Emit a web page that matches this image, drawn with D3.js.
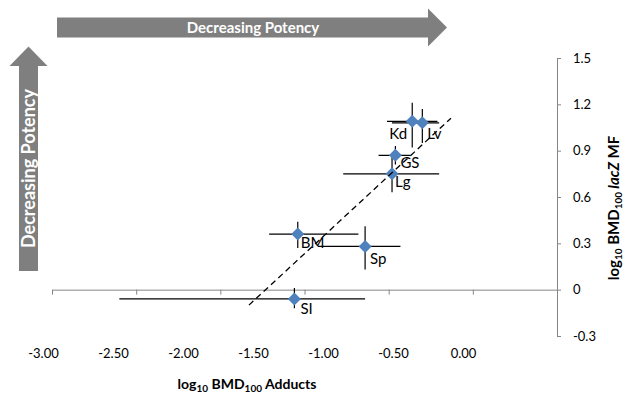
<!DOCTYPE html>
<html>
<head>
<meta charset="utf-8">
<script src="https://cdn.jsdelivr.net/npm/d3@7"></script>
<style>
  body { margin: 0; background: #fff; }
  svg { display: block; font-family: Lato, "Open Sans", sans-serif; }
</style>
</head>
<body>
<div id="chart"></div>
<script>
// data
var tissues   = ["SI", "BM", "Sp", "Lg", "GS", "Kd", "Lv"];
var adducts   = [-1.56, -1.54, -1.14, -0.98, -0.96, -0.86, -0.80];
var adductLo  = [-2.60, -1.71, -1.42, -1.27, -1.06, -1.01, -0.98];
var adductHi  = [-1.14, -1.18, -0.93, -0.70, -0.87, -0.71, -0.70];
var mf        = [-0.06, 0.36, 0.28, 0.75, 0.87, 1.09, 1.08];
var mfLo      = [-0.12, 0.27, 0.13, 0.63, 0.81, 0.92, 0.95];
var mfHi      = [0.01, 0.44, 0.41, 0.86, 0.93, 1.21, 1.17];
var trendX    = [-1.83, -0.63];
var trendY    = [-0.10, 1.11];
var xTicks    = [-3, -2.5, -2, -1.5, -1, -0.5, 0];
var xTickText = ["-3.00", "-2.50", "-2.00", "-1.50", "-1.00", "-0.50", "0.00"];
var yTicks    = [-0.3, 0, 0.3, 0.6, 0.9, 1.2, 1.5];
var yTickText = ["-0.3", "0", "0.3", "0.6", "0.9", "1.2", "1.5"];

// where each point label sits relative to its marker
var labelPos = {
    SI: [6, 15, "start"], BM: [3, 14, "start"], Sp: [5, 18, "start"],
    Lg: [3, 13, "start"], GS: [5, 13, "start"], Kd: [-5, 18, "end"],
    Lv: [5, 16, "start"]
};

var width = 625, height = 397;

var svg = d3.select("#chart")
    .append("svg")
    .attr("width", width)
    .attr("height", height);

var x = d3.scaleLinear().domain([-3, 0]).range([52, 557]);
var y = d3.scaleLinear().domain([-0.3, 1.5]).range([336, 58]);
// the tick labels row is laid out narrower than the axis line in the original
var xLab = d3.scaleLinear().domain([-3, 0]).range([43, 463]);

var grey = "#868686";

// x axis line through y = 0
var xAxis = svg.append("g")
    .attr("transform", "translate(0," + y(0) + ")")
    .call(d3.axisBottom(x).tickValues(xTicks).tickSize(5).tickSizeOuter(0).tickFormat(""));
xAxis.selectAll("path, line").attr("stroke", grey);

// x tick labels
var xLabels = svg.append("g")
    .attr("transform", "translate(0,345)")
    .call(d3.axisBottom(xLab).tickValues(xTicks).tickSize(0).tickPadding(4)
        .tickFormat(function(d, i) { return xTickText[i]; }));
xLabels.select(".domain").remove();
xLabels.selectAll("text").attr("font-size", 13).attr("font-family", "Lato").attr("fill", "#000");

// y axis on the right
var yAxis = svg.append("g")
    .attr("transform", "translate(" + x(0) + ",0)")
    .call(d3.axisRight(y).tickValues(yTicks).tickSize(4).tickSizeOuter(0).tickPadding(12)
        .tickFormat(function(d, i) { return yTickText[i]; }));
yAxis.selectAll("path, line").attr("stroke", grey);
yAxis.selectAll("text").attr("font-size", 13).attr("font-family", "Lato").attr("fill", "#000");

// axis titles
var xt = svg.append("text")
    .attr("x", 247).attr("y", 389)
    .attr("text-anchor", "middle")
    .attr("font-size", 14).attr("font-weight", "bold");
xt.append("tspan").text("log");
xt.append("tspan").attr("font-size", 10).attr("dy", 3).text("10");
xt.append("tspan").attr("dy", -3).text(" BMD");
xt.append("tspan").attr("font-size", 10).attr("dy", 3).text("100");
xt.append("tspan").attr("dy", -3).text(" Adducts");

var yt = svg.append("text")
    .attr("transform", "translate(619,208) rotate(-90)")
    .attr("text-anchor", "middle")
    .attr("font-size", 15).attr("font-weight", "bold");
yt.append("tspan").text("log");
yt.append("tspan").attr("font-size", 10).attr("dy", 3).text("10");
yt.append("tspan").attr("dy", -3).text(" BMD");
yt.append("tspan").attr("font-size", 10).attr("dy", 3).text("100");
yt.append("tspan").attr("dy", -3).attr("font-style", "italic").text(" lacZ");
yt.append("tspan").text(" MF");

// "Decreasing Potency" arrows
var arrowGrey = "#7f7f7f";
svg.append("path")
    .attr("d", "M57,17.5 L428,17.5 L428,8.5 L447,27.5 L428,46.5 L428,37.5 L57,37.5 Z")
    .attr("fill", arrowGrey);
svg.append("text")
    .attr("x", 253).attr("y", 33)
    .attr("text-anchor", "middle")
    .attr("font-size", 15).attr("font-weight", "bold")
    .attr("fill", "#fff")
    .text("Decreasing Potency");

svg.append("path")
    .attr("d", "M19,271 L19,66 L9.5,66 L28.5,46.5 L47.5,66 L38,66 L38,271 Z")
    .attr("fill", arrowGrey);
svg.append("text")
    .attr("transform", "translate(34.5,168.5) rotate(-90)")
    .attr("text-anchor", "middle")
    .attr("font-size", 18).attr("font-weight", "bold")
    .attr("fill", "#fff")
    .text("Decreasing Potency");

var pts = tissues.map(function(t, i) {
    return { name: t, x: adducts[i], y: mf[i], xlo: adductLo[i], xhi: adductHi[i], ylo: mfLo[i], yhi: mfHi[i] };
});

// error bars
var bars = svg.append("g").attr("stroke", "#000").attr("stroke-width", 1.2);
bars.selectAll(".hbar").data(pts).enter().append("line")
    .attr("x1", function(d) { return x(d.xlo); })
    .attr("x2", function(d) { return x(d.xhi); })
    .attr("y1", function(d) { return y(d.y); })
    .attr("y2", function(d) { return y(d.y); });
bars.selectAll(".vbar").data(pts).enter().append("line")
    .attr("x1", function(d) { return x(d.x); })
    .attr("x2", function(d) { return x(d.x); })
    .attr("y1", function(d) { return y(d.ylo); })
    .attr("y2", function(d) { return y(d.yhi); });

// diamonds
svg.selectAll(".pt").data(pts).enter().append("path")
    .attr("transform", function(d) { return "translate(" + x(d.x) + "," + y(d.y) + ")"; })
    .attr("d", "M0,-6.5 L6.5,0 L0,6.5 L-6.5,0 Z")
    .attr("fill", "#4f81bd");

// point labels
svg.selectAll(".lbl").data(pts).enter().append("text")
    .attr("x", function(d) { return x(d.x) + labelPos[d.name][0]; })
    .attr("y", function(d) { return y(d.y) + labelPos[d.name][1]; })
    .attr("text-anchor", function(d) { return labelPos[d.name][2]; })
    .attr("font-size", 15)
    .attr("fill", "#000")
    .text(function(d) { return d.name; });

// linear trend line
svg.append("line")
    .attr("x1", x(trendX[0])).attr("y1", y(trendY[0]))
    .attr("x2", x(trendX[1])).attr("y2", y(trendY[1]))
    .attr("stroke", "#000")
    .attr("stroke-width", 1.3)
    .attr("stroke-dasharray", "6,4");
</script>
</body>
</html>
